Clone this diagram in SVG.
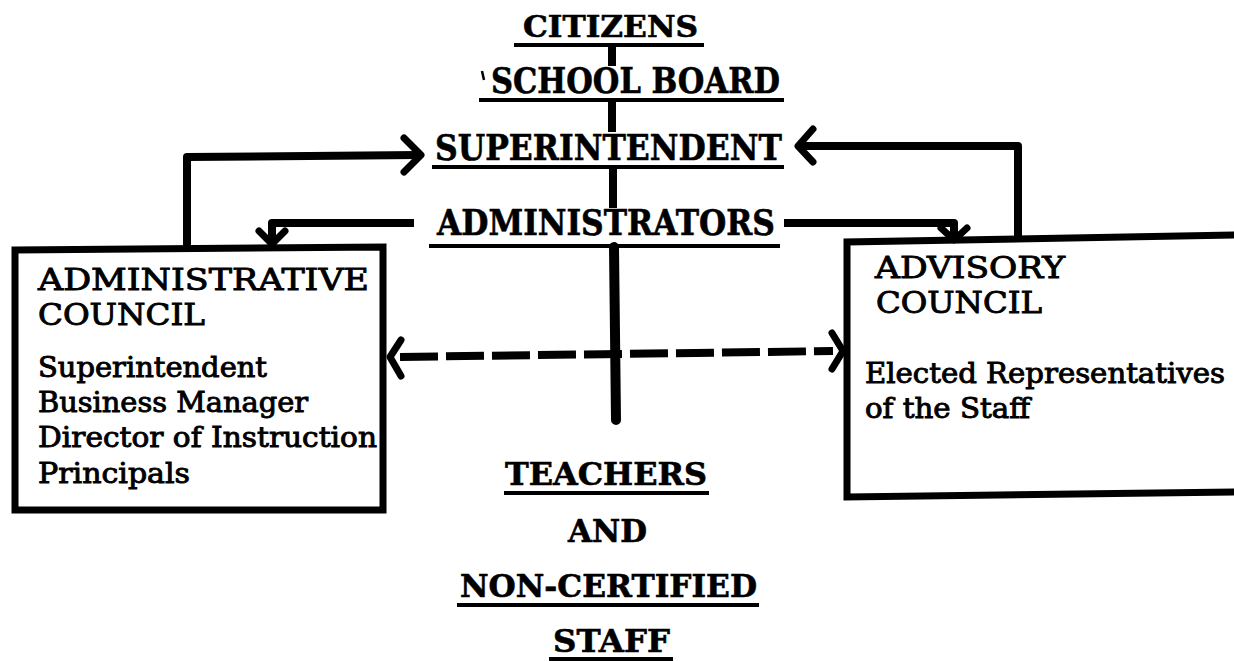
<svg xmlns="http://www.w3.org/2000/svg" width="1234" height="661" viewBox="0 0 1234 661">
  <style>
    .hdr { font-family: "DejaVu Serif", "Liberation Serif", serif; font-weight: bold; fill: #000; stroke: #000; stroke-width: 0.6; }
    .ttl { font-family: "DejaVu Serif", "Liberation Serif", serif; font-weight: normal; font-size: 29px; fill: #000; stroke: #000; stroke-width: 0.9; }
    .body { font-family: "DejaVu Serif", "Liberation Serif", serif; font-weight: normal; font-size: 27px; fill: #000; stroke: #000; stroke-width: 0.9; }
    .ul { stroke: #000; stroke-width: 4; fill: none; stroke-linecap: square; }
    .box { stroke: #000; stroke-width: 7; fill: none; stroke-linejoin: miter; }
    .wire { stroke: #000; stroke-width: 8; fill: none; stroke-linejoin: round; stroke-linecap: butt; }
    .head { stroke: #000; stroke-width: 7; fill: none; stroke-linejoin: round; stroke-linecap: round; }
    .dash { stroke: #000; stroke-width: 8; fill: none; stroke-dasharray: 38 8; stroke-linecap: butt; }
  </style>
  <rect width="1234" height="661" fill="#fff"/>

  <!-- connectors -->
  <g id="connectors">
    <!-- main chain of authority down the centre -->
    <path class="wire" stroke-width="10" d="M612,45 L612,66"/>
    <path class="wire" stroke-width="10" d="M612,100 L612,132"/>
    <path class="wire" stroke-width="10" d="M613,167 L613,208"/>
    <path d="M614,247 L616,420" stroke="#000" stroke-width="10" stroke-linecap="round" fill="none"/>

    <!-- administrative council up to superintendent -->
    <path class="wire" d="M187,248 L187,157 L418,155"/>
    <path class="head" d="M404,138 L421,155 L404,172"/>

    <!-- advisory council up to superintendent -->
    <path class="wire" d="M1018,238 L1018,146 L800,146"/>
    <path class="head" d="M813,129 L798,146 L813,162"/>

    <!-- administrators down to each council -->
    <path class="wire" d="M414,223 L272,223 L272,243"/>
    <path class="head" d="M259,231 L272,244 L285,231"/>
    <path class="wire" d="M784,223 L954,223 L954,236"/>
    <path class="head" d="M941,228 L954,240 L967,228"/>

    <!-- two-way dashed link between councils -->
    <path class="dash" d="M400,357 L833,351"/>
    <path class="head" d="M401,340 L390,357 L401,376"/>
    <path class="head" d="M832,333 L843,351 L832,369"/>
  </g>

  <g id="citizens">
    <text class="hdr" x="523" y="37" font-size="29" textLength="175" lengthAdjust="spacingAndGlyphs">CITIZENS</text>
    <line class="ul" x1="516" y1="45" x2="702" y2="45"/>
  </g>

  <g id="school-board">
    <path d="M482,71 L484,80" stroke="#000" stroke-width="2.5"/>
    <text class="hdr" x="491" y="93" font-size="35" textLength="289" lengthAdjust="spacingAndGlyphs">SCHOOL BOARD</text>
    <line class="ul" x1="481" y1="100" x2="782" y2="100"/>
  </g>

  <g id="superintendent">
    <text class="hdr" x="435" y="160" font-size="35" textLength="347" lengthAdjust="spacingAndGlyphs">SUPERINTENDENT</text>
    <line class="ul" x1="434" y1="167" x2="782" y2="167"/>
  </g>

  <g id="administrators">
    <text class="hdr" x="437" y="235" font-size="35" textLength="338" lengthAdjust="spacingAndGlyphs">ADMINISTRATORS</text>
    <line class="ul" x1="431" y1="246" x2="778" y2="246"/>
  </g>

  <g id="administrative-council">
    <path class="box" d="M15,250 L383,247 L383,510 L15,510 Z"/>
    <text class="ttl" x="38" y="290" textLength="331" lengthAdjust="spacingAndGlyphs">ADMINISTRATIVE</text>
    <text class="ttl" x="38" y="325" textLength="167" lengthAdjust="spacingAndGlyphs">COUNCIL</text>
    <text class="body" x="38" y="377" textLength="229" lengthAdjust="spacingAndGlyphs">Superintendent</text>
    <text class="body" x="38" y="412" textLength="270" lengthAdjust="spacingAndGlyphs">Business Manager</text>
    <text class="body" x="38" y="447" textLength="339" lengthAdjust="spacingAndGlyphs">Director of Instruction</text>
    <text class="body" x="38" y="483" textLength="152" lengthAdjust="spacingAndGlyphs">Principals</text>
  </g>

  <g id="advisory-council">
    <path class="box" d="M1240,235 L847,242 L847,497 L1240,492"/>
    <text class="ttl" x="875" y="278" textLength="190" lengthAdjust="spacingAndGlyphs">ADVISORY</text>
    <text class="ttl" x="876" y="313" textLength="166" lengthAdjust="spacingAndGlyphs">COUNCIL</text>
    <text class="body" x="865" y="383" textLength="360" lengthAdjust="spacingAndGlyphs">Elected Representatives</text>
    <text class="body" x="865" y="418" textLength="165" lengthAdjust="spacingAndGlyphs">of the Staff</text>
  </g>

  <g id="teachers-staff">
    <text class="hdr" x="505" y="485" font-size="31" textLength="202" lengthAdjust="spacingAndGlyphs">TEACHERS</text>
    <line class="ul" x1="506" y1="493" x2="707" y2="493"/>
    <text class="hdr" x="568" y="542" font-size="31" textLength="79" lengthAdjust="spacingAndGlyphs">AND</text>
    <text class="hdr" x="460" y="597" font-size="31" textLength="297" lengthAdjust="spacingAndGlyphs">NON-CERTIFIED</text>
    <line class="ul" x1="459" y1="605" x2="757" y2="605"/>
    <text class="hdr" x="553" y="652" font-size="31" textLength="117" lengthAdjust="spacingAndGlyphs">STAFF</text>
    <line class="ul" x1="551" y1="659" x2="671" y2="659"/>
  </g>
</svg>
